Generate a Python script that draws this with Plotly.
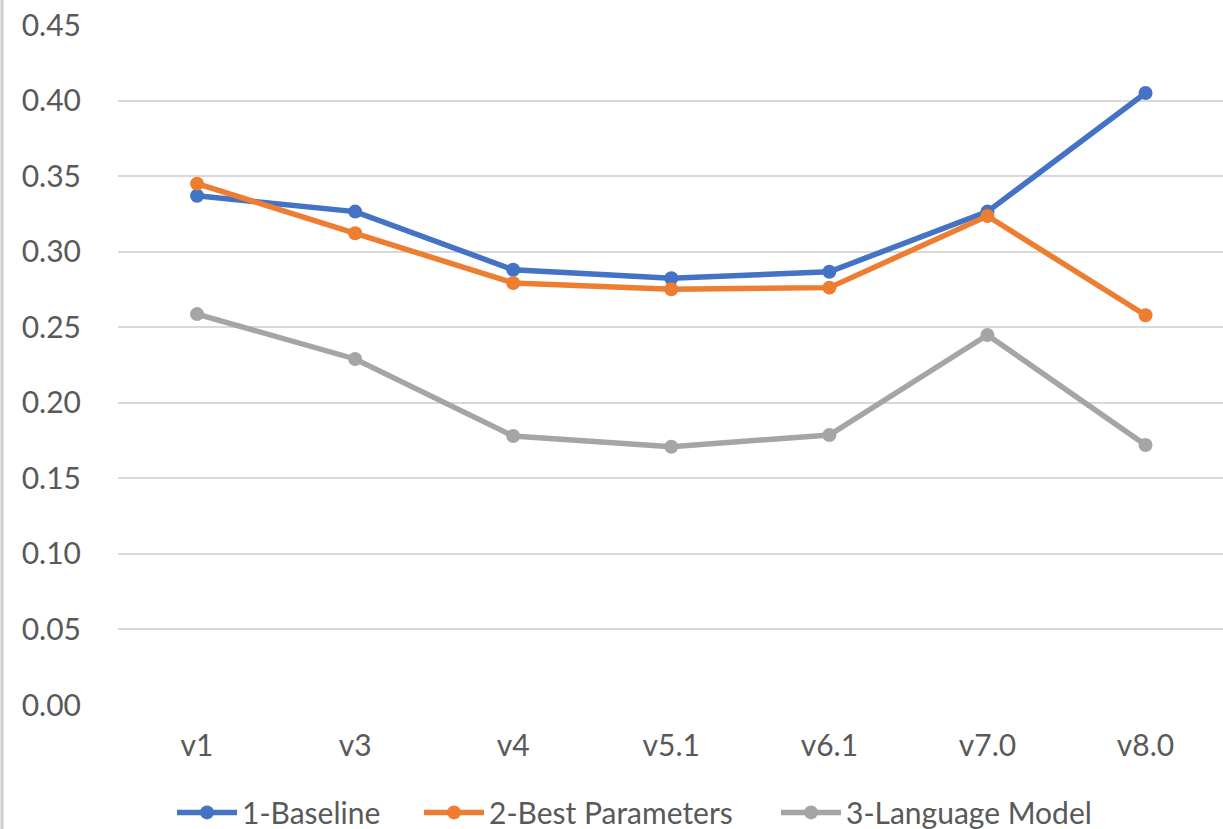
import plotly.graph_objects as go

# Categories (versions) and per-series scores
versions = ["v1", "v3", "v4", "v5.1", "v6.1", "v7.0", "v8.0"]
baseline = [0.337, 0.3265, 0.288, 0.2824, 0.2867, 0.3265, 0.405]
best_params = [0.345, 0.3122, 0.2793, 0.2751, 0.2762, 0.3236, 0.2579]
language_model = [0.2587, 0.229, 0.178, 0.1709, 0.1787, 0.2449, 0.1721]

y_ticks = [0.00, 0.05, 0.10, 0.15, 0.20, 0.25, 0.30, 0.35, 0.40, 0.45]

# name, values, colour, legend id, left edge of legend entry (px)
series = [
    ("1-Baseline", baseline, "#4472C4", "legend", 172),
    ("2-Best Parameters", best_params, "#ED7D31", "legend2", 419),
    ("3-Language Model", language_model, "#A5A5A5", "legend3", 776),
]

FONT = "Lato"
TEXT_COLOR = "#595959"
W, H = 1223, 829

fig = go.Figure()
legends = {}
for name, values, color, legend_id, left_px in series:
    fig.add_trace(go.Scatter(
        x=list(range(len(versions))),
        y=values,
        name=name,
        mode="lines+markers",
        line=dict(color=color, width=5.5),
        marker=dict(color=color, size=14),
        legend=legend_id,
    ))
    legends[legend_id] = dict(
        orientation="h",
        xref="container",
        yref="container",
        x=left_px / W,
        xanchor="left",
        y=0.02,
        yanchor="middle",
        font=dict(family=FONT, size=30, color=TEXT_COLOR),
        itemwidth=60,
        bgcolor="rgba(0,0,0,0)",
    )

fig.update_layout(
    width=W,
    height=H,
    margin=dict(l=118, r=0, t=25, b=124),
    paper_bgcolor="white",
    plot_bgcolor="white",
    font=dict(family=FONT, size=30, color=TEXT_COLOR),
    showlegend=True,
    xaxis=dict(
        range=[-0.5, 6.49],
        tickmode="array",
        tickvals=list(range(len(versions))),
        ticktext=versions,
        showgrid=False,
        zeroline=False,
        showline=False,
        ticks="",
        ticklabelstandoff=20,
        fixedrange=True,
    ),
    yaxis=dict(
        range=[0, 0.45],
        tickmode="array",
        tickvals=y_ticks,
        ticktext=[f"{v:.2f}" for v in y_ticks],
        showgrid=True,
        gridcolor="#d9d9d9",
        gridwidth=2,
        zeroline=False,
        showline=False,
        ticks="",
        ticklabelstandoff=36,
        fixedrange=True,
    ),
    shapes=[
        dict(
            type="line",
            xref="paper",
            yref="paper",
            x0=-0.105,
            x1=-0.105,
            y0=-0.2,
            y1=1.05,
            line=dict(color="#cfcfcf", width=3),
        )
    ],
    **legends,
)

fig.write_html("out.html")
